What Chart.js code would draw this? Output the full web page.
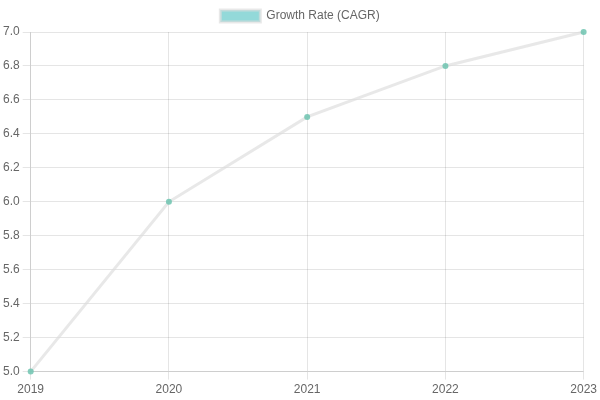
<!DOCTYPE html>
<html>
<head>
<meta charset="utf-8">
<script src="https://cdn.jsdelivr.net/npm/chart.js"></script>
<style>
  body { margin: 0; background: #fff; }
  #wrap { width: 600px; height: 400px; }
</style>
</head>
<body>
<div id="wrap"><canvas id="growthChart"></canvas></div>
<script>
// Data
const years = ['2019', '2020', '2021', '2022', '2023'];
const cagrValues = [5.0, 6.0, 6.5, 6.8, 7.0];

Chart.defaults.font.family = "'Liberation Sans', Arial, sans-serif";
Chart.defaults.color = '#666';

const ctx = document.getElementById('growthChart');
new Chart(ctx, {
    type: 'line',
    data: {
        labels: years,
        datasets: [{
            label: 'Growth Rate (CAGR)',
            data: cagrValues,
            backgroundColor: 'rgba(75, 192, 192, 0.6)',
            borderColor: 'rgba(220, 220, 220, 0.65)',
            borderWidth: 3,
            pointBackgroundColor: 'rgba(110, 196, 176, 0.85)',
            pointBorderColor: 'rgba(110, 196, 176, 0.85)',
            pointBorderWidth: 0,
            pointRadius: 3,
            tension: 0,
            fill: false,
            clip: false
        }]
    },
    options: {
        responsive: true,
        maintainAspectRatio: false,
        animation: false,
        plugins: {
            legend: { position: 'top' }
        },
        scales: {
            x: {
                grid: { color: 'rgba(0,0,0,0.1)' }
            },
            y: {
                min: 5,
                max: 7,
                ticks: {
                    stepSize: 0.2,
                    callback: v => v.toFixed(1)
                },
                grid: { color: 'rgba(0,0,0,0.1)' }
            }
        }
    }
});
</script>
</body>
</html>
